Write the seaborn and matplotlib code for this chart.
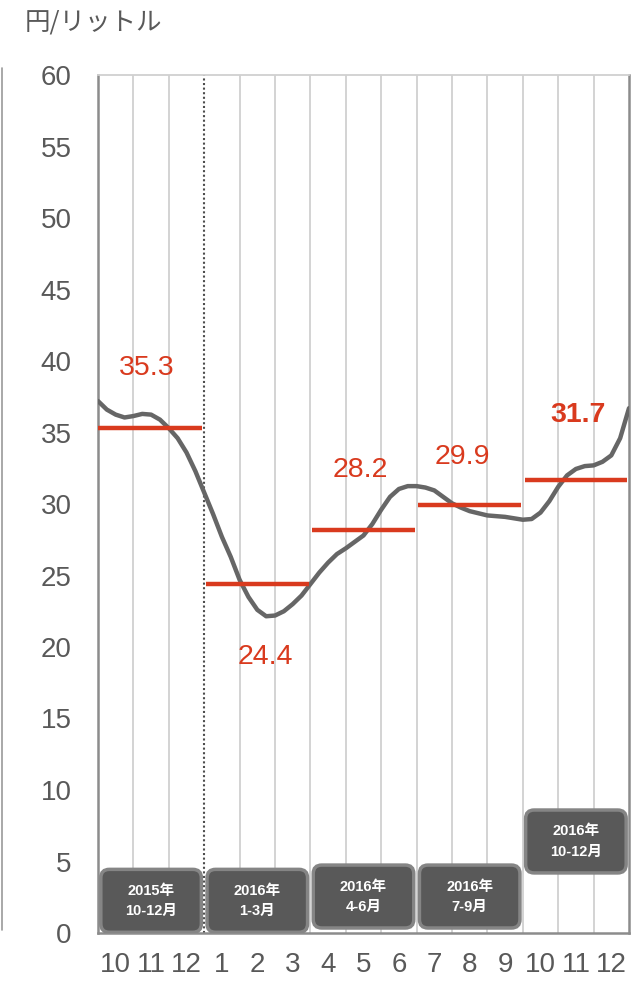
import pandas as pd
import matplotlib.pyplot as plt
import seaborn as sns
import numpy as np
from matplotlib.patches import FancyBboxPatch
from matplotlib.lines import Line2D

# Month labels along the x axis (Oct 2015 - Dec 2016)
months = ['10', '11', '12', '1', '2', '3', '4', '5', '6', '7', '8', '9', '10', '11', '12']

# Price curve, read every quarter month (time in months from start of Oct 2015)
curve_t = [0.0, 0.25, 0.5, 0.75, 1.0, 1.25, 1.5, 1.75, 2.0, 2.25, 2.5, 2.75,
           3.0, 3.25, 3.5, 3.75, 4.0, 4.25, 4.5, 4.75, 5.0, 5.25, 5.5, 5.75,
           6.0, 6.25, 6.5, 6.75, 7.0, 7.25, 7.5, 7.75, 8.0, 8.25, 8.5, 8.75,
           9.0, 9.25, 9.5, 9.75, 10.0, 10.25, 10.5, 10.75, 11.0, 11.25, 11.5, 11.75,
           12.0, 12.25, 12.5, 12.75, 13.0, 13.25, 13.5, 13.75, 14.0, 14.25, 14.5, 14.75, 15.0]
curve_price = [37.2, 36.6, 36.25, 36.05, 36.15, 36.3, 36.25, 35.9, 35.3, 34.6, 33.6, 32.3,
               30.8, 29.3, 27.7, 26.3, 24.7, 23.5, 22.6, 22.15, 22.2, 22.5, 23.0, 23.6,
               24.4, 25.2, 25.9, 26.5, 26.9, 27.35, 27.8, 28.6, 29.6, 30.5, 31.05, 31.25,
               31.25, 31.15, 30.95, 30.5, 30.05, 29.75, 29.5, 29.35, 29.2, 29.15, 29.1, 29.0,
               28.9, 28.95, 29.4, 30.2, 31.2, 32.0, 32.45, 32.65, 32.7, 32.95, 33.4, 34.6, 36.7]

# Quarterly averages
quarter_labels = ['2015年\n10-12月', '2016年\n1-3月', '2016年\n4-6月', '2016年\n7-9月', '2016年\n10-12月']
quarter_avg = [35.3, 24.4, 28.2, 29.9, 31.7]

red = '#D93A1E'
gray_text = '#595959'
box_fill = '#595959'
box_edge = '#858585'

sns.set_theme(style='white')
plt.rcParams['font.family'] = ['Liberation Sans', 'Noto Sans CJK JP', 'DejaVu Sans']

fig = plt.figure(figsize=(6.39, 9.82), dpi=100)
ax = fig.add_axes([98 / 639, 1 - 933 / 982, 531 / 639, 858 / 982])

# month gridlines
for k in range(1, 15):
    if k == 3:
        ax.axvline(k, color='#4d4d4d', lw=1.5, ls=(0, (1, 1.2)), zorder=1)
    else:
        ax.axvline(k, color='#d0d0d0', lw=1.3, zorder=1)

# price curve
curve = pd.DataFrame({'t': curve_t, 'price': curve_price})
sns.lineplot(data=curve, x='t', y='price', ax=ax, color='#666666', lw=3.2,
             solid_joinstyle='round', solid_capstyle='round', zorder=3)

# quarterly average bars and labels
label_dx = [1.38, 1.72, 1.4, 1.3, 1.56]
label_dy = [4.2, -5.1, 4.2, 3.4, 4.5]
for i, v in enumerate(quarter_avg):
    x0, x1 = 3 * i + 0.05, 3 * i + 2.95
    if i == 0:
        x0 = 0.0
    ax.hlines(v, x0, x1, color=red, lw=3.2, zorder=4)
    ax.text(3 * i + label_dx[i], v + label_dy[i], f'{v}',
            color=red, fontsize=20.5, ha='center', va='center',
            fontweight='bold' if i == 4 else 'normal', zorder=5)

# quarter boxes
box_y = [0.05, 0.05, 0.35, 0.35, 4.2]
box_h = 4.4
for i, lab in enumerate(quarter_labels):
    x0 = 3 * i + 0.08
    w = 2.84
    patch = FancyBboxPatch((x0, box_y[i]), w, box_h,
                           boxstyle='round,pad=0,rounding_size=0.24',
                           mutation_aspect=35.4 / 14.3,
                           facecolor=box_fill, edgecolor=box_edge, lw=2.5, zorder=6)
    ax.add_patch(patch)
    ax.text(x0 + w / 2, box_y[i] + box_h / 2, lab, color='white', fontsize=10.5,
            fontweight='bold', ha='center', va='center', linespacing=1.55, zorder=7)

ax.set_xlim(0, 15)
ax.set_ylim(0, 60)
ax.set_xticks(np.arange(15) + 0.5)
ax.set_xticklabels(months)
ax.set_yticks(range(0, 61, 5))
ax.tick_params(axis='both', length=0, labelsize=20, labelcolor=gray_text)
ax.tick_params(axis='x', pad=14)
ax.tick_params(axis='y', pad=19)
ax.set_xlabel('')
ax.set_ylabel('')
for side in ['left', 'bottom', 'right']:
    ax.spines[side].set_color('#8c8c8c')
    ax.spines[side].set_linewidth(1.8)
ax.spines['top'].set_color('#d0d0d0')
ax.spines['top'].set_linewidth(1.3)

fig.text(25 / 639, 1 - 23 / 982, '円/リットル', color=gray_text, fontsize=18.4,
         ha='left', va='center', family=['Noto Sans CJK JP', 'DejaVu Sans'])

# thin edge line at the far left of the picture
fig.add_artist(Line2D([2 / 639, 2 / 639], [1 - 930 / 982, 1 - 68 / 982], color='#9a9a9a', lw=1.2))

fig.savefig('out.png', dpi=100)
